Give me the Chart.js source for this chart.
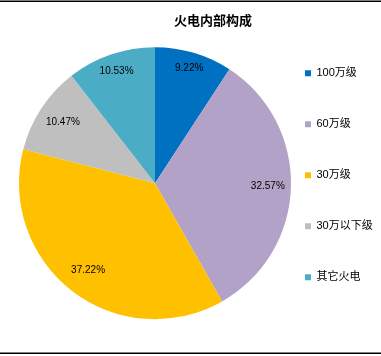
<!DOCTYPE html>
<html>
<head>
<meta charset="utf-8">
<script src="https://cdn.jsdelivr.net/npm/chart.js@4.4.1/dist/chart.umd.min.js"></script>
<style>
  html, body { margin: 0; padding: 0; background: #fff; }
  #wrap { position: relative; width: 381px; height: 356px; }
</style>
</head>
<body>
<div id="wrap"><canvas id="c" width="381" height="356"></canvas></div>
<script>
// ---- data ----
const titleText = '火电内部构成';
const categories = ['100万级', '60万级', '30万级', '30万以下级', '其它火电'];
const shares = [9.22, 32.57, 37.22, 10.47, 10.53];
const valueLabels = ['9.22%', '32.57%', '37.22%', '10.47%', '10.53%'];

// ---- styles ----
const colors = ['#0070C0', '#B3A2C7', '#FFC000', '#BFBFBF', '#4BACC6'];
const labelRadiusFrac = [0.88, 0.83, 0.81, 0.81, 0.87];
const cjk = '"Liberation Sans", Arial, "Noto Sans CJK SC", sans-serif';

const framePlugin = {
  id: 'frame',
  beforeDraw(chart) {
    const ctx = chart.ctx;
    ctx.save();
    ctx.fillStyle = '#fff';
    ctx.fillRect(0, 0, chart.width, chart.height);
    ctx.strokeStyle = '#000';
    ctx.lineWidth = 1.5;
    ctx.beginPath();
    ctx.moveTo(0, 1.25); ctx.lineTo(chart.width, 1.25);
    ctx.moveTo(0, 353.25); ctx.lineTo(chart.width, 353.25);
    ctx.stroke();
    ctx.restore();
  }
};

const labelPlugin = {
  id: 'sliceLabels',
  afterDatasetsDraw(chart) {
    const ctx = chart.ctx;
    const meta = chart.getDatasetMeta(0);
    ctx.save();
    ctx.font = '10px "Liberation Sans", Arial, sans-serif';
    ctx.fillStyle = '#000';
    ctx.textAlign = 'center';
    ctx.textBaseline = 'middle';
    meta.data.forEach((arc, i) => {
      const p = arc.getProps(['x', 'y', 'startAngle', 'endAngle', 'outerRadius'], true);
      const mid = (p.startAngle + p.endAngle) / 2;
      const r = p.outerRadius * labelRadiusFrac[i];
      ctx.fillText(valueLabels[i], p.x + Math.cos(mid) * r, p.y + Math.sin(mid) * r);
    });
    ctx.restore();
  }
};

new Chart(document.getElementById('c'), {
  type: 'pie',
  data: {
    labels: categories,
    datasets: [{
      data: shares,
      backgroundColor: colors,
      borderWidth: 0,
      radius: 136,
      clip: false
    }]
  },
  options: {
    responsive: false,
    animation: false,
    layout: { padding: { left: 45, right: 0, top: 0, bottom: 17.5 } },
    plugins: {
      title: {
        display: true,
        text: titleText,
        color: '#000',
        font: { family: '"Noto Sans CJK SC", sans-serif', size: 13, weight: 'bold' },
        padding: { top: 12.2, bottom: 0 }
      },
      legend: {
        position: 'right',
        align: 'start',
        fullSize: false,
        maxWidth: 116,
        labels: {
          boxWidth: 6,
          boxHeight: 6,
          padding: 40,
          color: '#000',
          font: { family: cjk, size: 11 }
        }
      },
      tooltip: { enabled: false }
    }
  },
  plugins: [framePlugin, labelPlugin]
});
</script>
</body>
</html>
